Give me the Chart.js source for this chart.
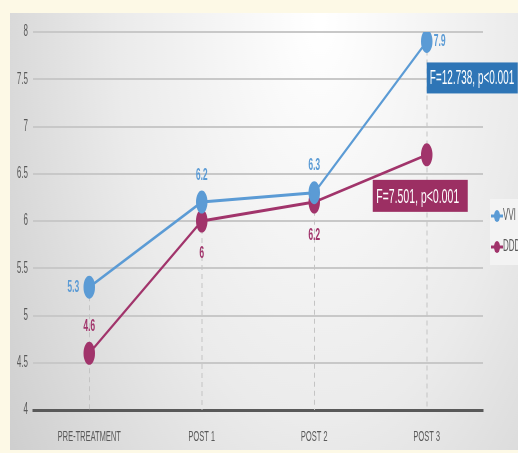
<!DOCTYPE html>
<html>
<head>
<meta charset="utf-8">
<script src="https://cdn.jsdelivr.net/npm/chart.js@4"></script>
<style>
  html, body { margin: 0; padding: 0; background: #fdf9e6; overflow: hidden; }
  /* the original picture is squeezed horizontally: draw wide, then squeeze */
  #wrap { width: 1036px; height: 453px; transform: scaleX(0.5); transform-origin: 0 0; }
</style>
</head>
<body>
<div id="wrap"><canvas id="chart" width="1036" height="453"></canvas></div>
<script>
// Chart data
const categories = ["PRE-TREATMENT", "POST 1", "POST 2", "POST 3"];
const vviValues = [5.3, 6.2, 6.3, 7.9];
const dddValues = [4.6, 6, 6.2, 6.7];
const seriesNames = ["VVI", "DDD"];
const statLabels = ["F=12.738, p<0.001", "F=7.501, p<0.001"];
const yTicks = [4, 4.5, 5, 5.5, 6, 6.5, 7, 7.5, 8];

const BLUE = "#5b9bd5";
const MAROON = "#a1346b";
const FONT = '"Liberation Sans", Arial, sans-serif';

// background: cream border + soft grey/white panel
const backgroundPlugin = {
  id: "panelBg",
  beforeDraw(chart) {
    const { ctx, width, height } = chart;
    ctx.save();
    ctx.fillStyle = "#fdf9e6";
    ctx.fillRect(0, 0, width, height);
    const g = ctx.createRadialGradient(640, 20, 10, 640, 20, 800);
    g.addColorStop(0, "#ffffff");
    g.addColorStop(0.5, "#ebebeb");
    g.addColorStop(1, "#cbcbcb");
    ctx.fillStyle = g;
    ctx.fillRect(20, 13, width - 20, height - 16);
    ctx.restore();
  }
};

// dashed drop lines from highest point down to the axis
const dropLinesPlugin = {
  id: "dropLines",
  beforeDatasetsDraw(chart) {
    const { ctx, chartArea } = chart;
    const m0 = chart.getDatasetMeta(0).data;
    const m1 = chart.getDatasetMeta(1).data;
    ctx.save();
    ctx.strokeStyle = "#c4c4c4";
    ctx.lineWidth = 2;
    ctx.setLineDash([5, 4]);
    m0.forEach((p, i) => {
      const top = Math.min(p.y, m1[i].y);
      ctx.beginPath();
      ctx.moveTo(Math.round(p.x), top);
      ctx.lineTo(Math.round(p.x), chartArea.bottom);
      ctx.stroke();
    });
    ctx.restore();
  }
};

// value labels, stat boxes and legend
const labelsPlugin = {
  id: "valueLabels",
  afterDatasetsDraw(chart) {
    const { ctx } = chart;
    const vvi = chart.getDatasetMeta(0).data;
    const ddd = chart.getDatasetMeta(1).data;
    ctx.save();
    ctx.font = "bold 17px " + FONT;
    ctx.textBaseline = "middle";

    // VVI labels: left, above, above, right
    ctx.fillStyle = BLUE;
    ctx.textAlign = "right";
    ctx.fillText(vviValues[0], vvi[0].x - 20, vvi[0].y);
    ctx.textAlign = "center";
    ctx.fillText(vviValues[1], vvi[1].x, vvi[1].y - 27);
    ctx.fillText(vviValues[2], vvi[2].x, vvi[2].y - 27);
    ctx.textAlign = "left";
    ctx.fillText(vviValues[3], vvi[3].x + 14, vvi[3].y);

    // DDD labels: above, below, below
    ctx.fillStyle = MAROON;
    ctx.textAlign = "center";
    ctx.fillText(dddValues[0], ddd[0].x, ddd[0].y - 27);
    ctx.fillText(dddValues[1], ddd[1].x, ddd[1].y + 32);
    ctx.fillText(dddValues[2], ddd[2].x, ddd[2].y + 33);

    // stat boxes
    ctx.font = "20px " + FONT;
    ctx.textAlign = "left";
    const b1x = vvi[3].x, b1y = vvi[3].y + 21;
    ctx.fillStyle = "#2e75b6";
    ctx.fillRect(b1x, b1y, 182, 31);
    ctx.fillStyle = "#ffffff";
    ctx.fillText(statLabels[0], b1x + 6, b1y + 16);

    ctx.font = "21px " + FONT;
    const b2x = ddd[3].x - 108, b2y = ddd[3].y + 25;
    ctx.fillStyle = "#9c2f63";
    ctx.fillRect(b2x, b2y, 190, 32);
    ctx.fillStyle = "#ffffff";
    ctx.fillText(statLabels[1], b2x + 7, b2y + 17);

    // legend (clipped at right edge like the original)
    ctx.fillStyle = "rgba(244,244,244,0.9)";
    ctx.fillRect(980, 199, 60, 66);
    [BLUE, MAROON].forEach((c, i) => {
      const y = 216 + i * 31;
      ctx.strokeStyle = c;
      ctx.lineWidth = 3;
      ctx.beginPath();
      ctx.moveTo(982, y);
      ctx.lineTo(1006, y);
      ctx.stroke();
      ctx.fillStyle = c;
      ctx.beginPath();
      ctx.arc(994, y, 6, 0, Math.PI * 2);
      ctx.fill();
      ctx.fillStyle = "#595959";
      ctx.font = "16px " + FONT;
      ctx.fillText(seriesNames[i], 1006, y);
    });
    ctx.restore();
  }
};

new Chart(document.getElementById("chart"), {
  type: "line",
  data: {
    labels: categories,
    datasets: [
      {
        label: seriesNames[0],
        data: vviValues,
        borderColor: BLUE,
        backgroundColor: BLUE,
        borderWidth: 3,
        pointRadius: 10,
        pointHoverRadius: 10,
        tension: 0
      },
      {
        label: seriesNames[1],
        data: dddValues,
        borderColor: MAROON,
        backgroundColor: MAROON,
        borderWidth: 3,
        pointRadius: 10,
        pointHoverRadius: 10,
        tension: 0
      }
    ]
  },
  options: {
    responsive: false,
    animation: false,
    layout: { padding: { left: 20, top: 32, right: 70, bottom: 3 } },
    plugins: {
      legend: { display: false },
      tooltip: { enabled: false }
    },
    scales: {
      x: {
        offset: true,
        grid: { display: false },
        border: { display: true, color: "#595959", width: 3 },
        ticks: { color: "#595959", font: { family: FONT, size: 15 }, padding: 10 },
        afterFit: (s) => { s.height = 40; }
      },
      y: {
        min: 4,
        max: 8,
        afterBuildTicks: (s) => { s.ticks = yTicks.map((v) => ({ value: v })); },
        grid: {
          color: (c) => (c.tick && c.tick.value === 4 ? "#595959" : "#c8c8c8"),
          lineWidth: (c) => (c.tick && c.tick.value === 4 ? 3 : 2),
          drawTicks: false
        },
        border: { display: false },
        ticks: {
          color: "#595959",
          font: { family: FONT, size: 16 },
          padding: 10,
          callback: (v) => String(v)
        },
        afterFit: (s) => { s.width = 46; }
      }
    }
  },
  plugins: [backgroundPlugin, dropLinesPlugin, labelsPlugin]
});
</script>
</body>
</html>
